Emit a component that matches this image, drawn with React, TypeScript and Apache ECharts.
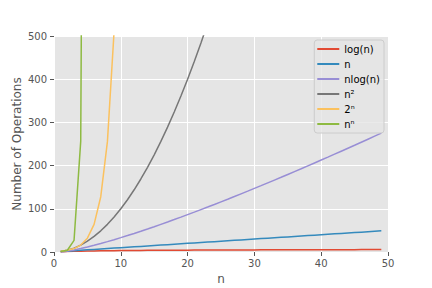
import React, { useEffect, useRef } from "react";
import * as echarts from "echarts";

const ns = [1,2,3,4,5,6,7,8,9,10,11,12,13,14,15,16,17,18,19,20,21,22,23,24,25,26,27,28,29,30,31,32,33,34,35,36,37,38,39,40,41,42,43,44,45,46,47,48,49];

const logN = [0,1,1.58,2,2.32,2.58,2.81,3,3.17,3.32,3.46,3.58,3.7,3.81,3.91,4,4.09,4.17,4.25,4.32,4.39,4.46,4.52,4.58,4.64,4.7,4.75,4.81,4.86,4.91,4.95,5,5.04,5.09,5.13,5.17,5.21,5.25,5.29,5.32,5.36,5.39,5.43,5.46,5.49,5.52,5.55,5.58,5.61];

const linN = [1,2,3,4,5,6,7,8,9,10,11,12,13,14,15,16,17,18,19,20,21,22,23,24,25,26,27,28,29,30,31,32,33,34,35,36,37,38,39,40,41,42,43,44,45,46,47,48,49];

const nLogN = [0,2,4.75,8,11.61,15.51,19.65,24,28.53,33.22,38.05,43.02,48.11,53.3,58.6,64,69.49,75.06,80.71,86.44,92.24,98.11,104.04,110.04,116.1,122.21,128.38,134.61,140.88,147.21,153.58,160,166.46,172.97,179.52,186.12,192.75,199.42,206.13,212.88,219.66,226.48,233.33,240.21,247.13,254.09,261.07,268.08,275.12];

const nSq = [1,4,9,16,25,36,49,64,81,100,121,144,169,196,225,256,289,324,361,400,441,484,529];

const twoN = [2,4,8,16,32,64,128,256,512];

const nPowN = [1,4,27,256,3125];

const seriesNames = ["log(n)", "n", "nlog(n)", "n²", "2ⁿ", "nⁿ"];
const seriesValues = [logN, linN, nLogN, nSq, twoN, nPowN];
const colors = ["#E24A33", "#348ABD", "#988ED5", "#777777", "#FBC15E", "#8EBA42"];

const xTicks = { min: 0, max: 50, interval: 10 };
const yTicks = { min: 0, max: 500, interval: 100 };

export default function App() {
  const ref = useRef<HTMLDivElement>(null);
  useEffect(() => {
    if (!ref.current) return;
    const chart = echarts.init(ref.current, undefined, { renderer: "svg" });
    const font = "DejaVu Sans";
    chart.setOption({
      animation: false,
      color: colors,
      grid: {
        left: 54,
        right: 44,
        top: 36,
        bottom: 36,
        containLabel: false,
        outerBoundsMode: "none",
        show: true,
        backgroundColor: "#E5E5E5",
        borderWidth: 0,
      },
      legend: {
        orient: "vertical",
        right: 48,
        top: 40,
        icon: "rect",
        itemWidth: 22,
        itemHeight: 2,
        itemGap: 3,
        padding: [3, 4, 3, 3],
        backgroundColor: "rgba(229,229,229,0.8)",
        borderColor: "#cccccc",
        borderWidth: 1,
        borderRadius: 3,
        textStyle: { fontFamily: font, fontSize: 10, color: "#000", lineHeight: 12 },
        data: seriesNames,
      },
      xAxis: {
        type: "value",
        min: xTicks.min,
        max: xTicks.max,
        interval: xTicks.interval,
        name: "n",
        nameLocation: "middle",
        nameGap: 21,
        nameMoveOverlap: false,
        nameTextStyle: { fontFamily: font, fontSize: 12, color: "#555" },
        axisLine: { show: false },
        axisTick: { show: true, length: 4, lineStyle: { color: "#555" } },
        axisLabel: { fontFamily: font, fontSize: 10, color: "#555", margin: 6 },
        splitLine: { show: true, lineStyle: { color: "#fff", width: 1 } },
      },
      yAxis: {
        type: "value",
        min: yTicks.min,
        max: yTicks.max,
        interval: yTicks.interval,
        name: "Number of Operations",
        nameLocation: "middle",
        nameGap: 31,
        nameMoveOverlap: false,
        nameTextStyle: { fontFamily: font, fontSize: 12, color: "#555" },
        axisLine: { show: false },
        axisTick: { show: true, length: 4, lineStyle: { color: "#555" } },
        axisLabel: { fontFamily: font, fontSize: 10, color: "#555", margin: 7 },
        splitLine: { show: true, lineStyle: { color: "#fff", width: 1 } },
      },
      series: seriesNames.map((name, i) => ({
        name,
        type: "line",
        showSymbol: false,
        symbol: "none",
        clip: true,
        lineStyle: { width: 1.5, color: colors[i] },
        itemStyle: { color: colors[i] },
        data: seriesValues[i].map((v, j) => [ns[j], v]),
      })),
    });
    return () => chart.dispose();
  }, []);
  return (
    <div
      ref={ref}
      style={{ position: "fixed", left: 0, top: 0, width: 432, height: 288, background: "#fff" }}
    />
  );
}
